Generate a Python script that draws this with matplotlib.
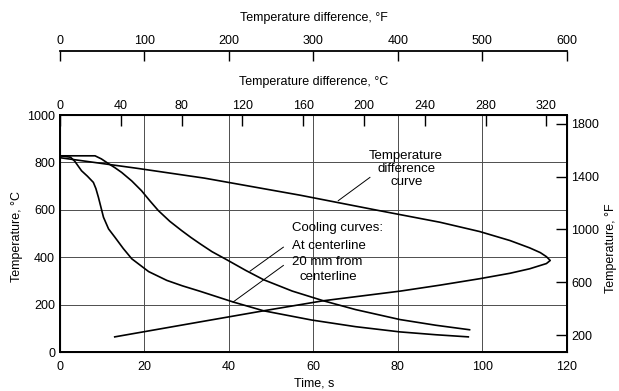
import matplotlib
matplotlib.use('Agg')
import matplotlib.pyplot as plt

plt.rcParams['font.family'] = ['Liberation Sans', 'DejaVu Sans']

# ---- data ----
time_center = [0, 8.3, 9.8, 11.4, 13.0, 14.6, 17.0, 19.3, 21.3, 23.3, 26.0, 28.8, 31.0, 33.2, 36.0, 39.5, 44.0, 48.2, 55.0, 62.4, 70.0, 80.5, 89.0, 97.0]
temp_center = [828, 828, 815, 796, 778, 758, 722, 681, 638, 597, 552, 513, 484, 457, 424, 390, 345, 306, 258, 217, 180, 138, 114, 95]

time_20mm = [0, 2.5, 3.5, 5.1, 6.5, 7.9, 8.5, 9.1, 10.3, 11.5, 13.0, 15.0, 17.0, 21.0, 25.3, 29.0, 33.2, 41.0, 48.2, 59.6, 70.0, 80.5, 89.0, 96.7]
temp_20mm = [828, 822, 805, 765, 742, 716, 690, 653, 569, 520, 485, 437, 394, 340, 303, 280, 257, 212, 175, 136, 108, 86, 74, 65]

diff_C = [0, 50, 95, 158, 210, 250, 276, 296, 309, 316, 320, 322.5, 320, 316, 309, 296, 276, 250, 224, 173, 134, 92, 36]
diff_temp = [820, 776, 734, 662, 597, 548, 509, 471, 440, 420, 403, 387, 374, 366, 352, 333, 310, 283, 258, 217, 175, 128, 65]

time_ticks = [0, 20, 40, 60, 80, 100, 120]
temp_c_ticks = [0, 200, 400, 600, 800, 1000]
temp_f_ticks = [200, 600, 1000, 1400, 1800]
diff_c_ticks = [0, 40, 80, 120, 160, 200, 240, 280, 320]
diff_f_ticks = [0, 100, 200, 300, 400, 500, 600]

# ---- layout ----
W, H = 619, 391
fig = plt.figure(figsize=(W / 100, H / 100), dpi=100)
L, R, T, B = 60, 566.7, 115, 352.3

ax = fig.add_axes([L / W, 1 - B / H, (R - L) / W, (B - T) / H])
ax.set_xlim(0, 120)
ax.set_ylim(0, 1000)
ax.set_xticks(time_ticks)
ax.set_yticks(temp_c_ticks)
ax.tick_params(axis='both', length=0, labelsize=9)
ax.tick_params(axis='x', pad=6)
ax.tick_params(axis='y', pad=3.5)
ax.grid(True, color='0.3', lw=0.7)
for s in ax.spines.values():
    s.set_linewidth(1.3)

lc = 'black'
ax.plot(time_center, temp_center, color=lc, lw=1.2)
ax.plot(time_20mm, temp_20mm, color=lc, lw=1.2)

# top temperature-difference axis in C
axc = ax.twiny()
axc.set_xlim(0, 600 / 1.8)
axc.set_xticks(diff_c_ticks)
axc.tick_params(axis='x', direction='in', length=8, width=1, pad=2.5, labelsize=9)
axc.plot(diff_C, diff_temp, color=lc, lw=1.2)
for s in axc.spines.values():
    s.set_linewidth(1.3)

# right temperature axis in F
axr = ax.twinx()
axr.set_ylim(69, 1868)
axr.set_yticks(temp_f_ticks)
axr.tick_params(axis='y', direction='in', length=8, width=1, pad=3.5, labelsize=9)

# separate F temperature-difference axis
yF = 51
axf = fig.add_axes([L / W, 1 - yF / H, (R - L) / W, 0.0005])
axf.patch.set_visible(False)
for k in ['left', 'right', 'bottom']:
    axf.spines[k].set_visible(False)
axf.spines['top'].set_linewidth(1.3)
axf.set_xlim(0, 600)
axf.set_yticks([])
axf.set_xticks(diff_f_ticks)
axf.xaxis.set_ticks_position('top')
axf.xaxis.set_label_position('top')
axf.tick_params(axis='x', direction='in', length=7, width=1, pad=3, labelsize=9)

# titles / axis labels
fig.text(314 / W, 1 - 18 / H, 'Temperature difference, °F', ha='center', va='center', fontsize=9)
fig.text(314 / W, 1 - 82 / H, 'Temperature difference, °C', ha='center', va='center', fontsize=9)
fig.text(314 / W, 1 - 383 / H, 'Time, s', ha='center', va='center', fontsize=9)
fig.text(17 / W, 1 - 236 / H, 'Temperature, °C', ha='center', va='center', rotation=90, fontsize=9)
fig.text(611 / W, 1 - 248 / H, 'Temperature, °F', ha='center', va='center', rotation=90, fontsize=9)

# annotations
fs = 9.5
ax.text(82, 773, 'Temperature\ndifference\ncurve', ha='center', va='center', fontsize=fs, linespacing=1.1)
ax.plot([73.4, 65.9], [737, 639], color=lc, lw=0.7)

ax.text(55, 522, 'Cooling curves:', ha='left', va='center', fontsize=fs)
ax.text(54.9, 450, 'At centerline', ha='left', va='center', fontsize=fs)
ax.text(54.9, 379, '20 mm from', ha='left', va='center', fontsize=fs)
ax.text(63.6, 317, 'centerline', ha='center', va='center', fontsize=fs)
ax.plot([52.9, 45.0], [443, 342], color=lc, lw=0.7)
ax.plot([52.9, 41.0], [366, 212], color=lc, lw=0.7)

fig.savefig('out.png', dpi=100)
